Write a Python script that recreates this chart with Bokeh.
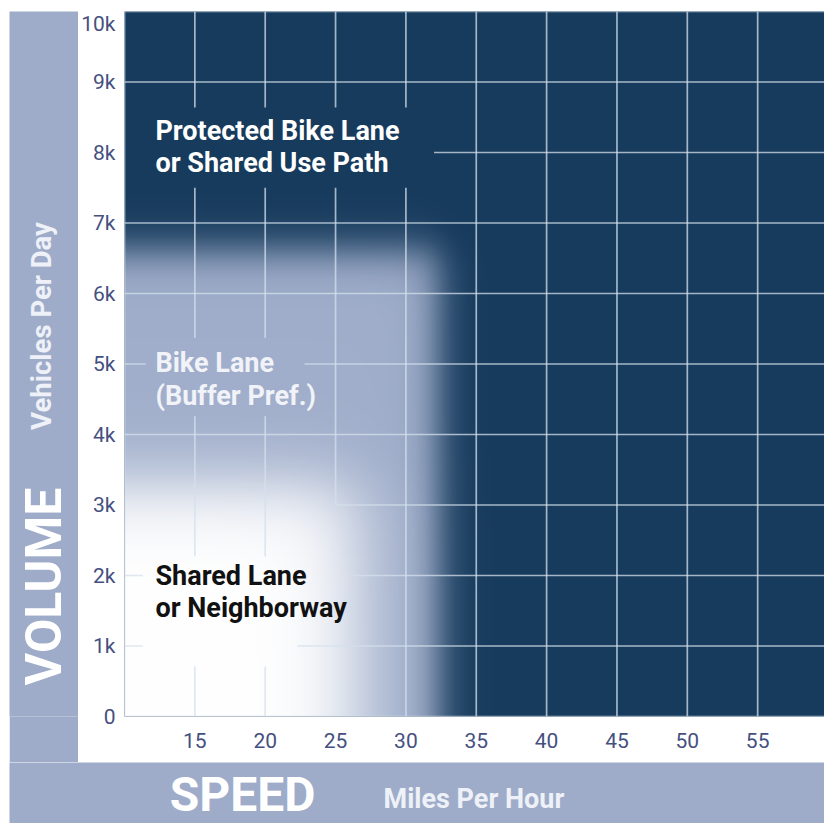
import numpy as np
from bokeh.plotting import figure
from bokeh.layouts import row, column
from bokeh.models import Range1d, FixedTicker, Spacer
from bokeh.embed import file_html
from bokeh.resources import INLINE
from bokeh.core.properties import value

# ---------------- data ----------------
speed_ticks = [15, 20, 25, 30, 35, 40, 45, 50, 55]
volume_ticks = [0, 1000, 2000, 3000, 4000, 5000, 6000, 7000, 8000, 9000, 10000]
volume_labels = ["0", "1k", "2k", "3k", "4k", "5k", "6k", "7k", "8k", "9k", "10k"]

zone_lines = [["Protected Bike Lane", "or Shared Use Path"],
              ["Bike Lane", "(Buffer Pref.)"],
              ["Shared Lane", "or Neighborway"]]
# approximate zone limits (soft edges)
bike_lane_speed_max = 32.3     # mph
bike_lane_volume_max = 6600    # vehicles / day
shared_lane_speed_max = 26.5   # mph
shared_lane_volume_max = 3300  # vehicles / day

# ---------------- style ----------------
NAVY = (23, 59, 93)
LAV = (160, 174, 203)
WHITE = (255, 255, 255)
FRAME = "#9eacc9"
TICK_COLOR = "#46507f"
GRID_COLOR = "#d4e0ec"
FONT = "Roboto"

X0, X1 = 10, 59.75
Y0, Y1 = 0, 10000

# ---------------- background raster ----------------
NX, NY = 350, 352
xs = X0 + (np.arange(NX) + 0.5) * (X1 - X0) / NX
ys = Y0 + (np.arange(NY) + 0.5) * (Y1 - Y0) / NY
X, Y = np.meshgrid(xs, ys)


def sig(d):
    return 1.0 / (1.0 + np.exp(-d))


A = sig((bike_lane_speed_max - X) / 0.75) * sig((bike_lane_volume_max - Y) / 170.0)
W = sig((shared_lane_speed_max - X) / 1.6) * sig((shared_lane_volume_max - Y) / 300.0)

img = np.empty((NY, NX), dtype=np.uint32)
view = img.view(dtype=np.uint8).reshape((NY, NX, 4))
for c in range(3):
    base = NAVY[c] + A * (LAV[c] - NAVY[c])
    col = base + W * (WHITE[c] - base)
    view[:, :, c] = np.clip(col, 0, 255).astype(np.uint8)
view[:, :, 3] = 255

BORDER_B = 46
FIG_H = 751

# ---------------- main figure ----------------
p = figure(width=746, height=FIG_H, x_range=Range1d(X0, X1), y_range=Range1d(Y0, Y1),
           output_backend="svg", toolbar_location=None, title=None,
           min_border_left=46, min_border_right=0, min_border_top=0,
           min_border_bottom=BORDER_B,
           border_fill_color="white", background_fill_color="#173b5d",
           outline_line_color=None)
p.xgrid.visible = False
p.ygrid.visible = False

p.image_rgba(image=[img], x=X0, y=Y0, dw=X1 - X0, dh=Y1 - Y0)

# grid lines (with gaps around the zone labels)
h_spans = {
    0: [(X0, X1)],
    1000: [(X0, 11.3), (22.3, X1)],
    2000: [(X0, 11.3), (26.0, X1)],
    3000: [(25, X1)],
    4000: [(X0, X1)],
    5000: [(X0, 11.5), (22.8, X1)],
    6000: [(X0, X1)],
    7000: [(X0, X1)],
    8000: [(32.0, X1)],
    9000: [(X0, X1)],
    10000: [(X0, X1)],
}
v_spans = {
    10: [(0, 10000)],
    15: [(8640, 10000), (5370, 7500), (2270, 4260), (0, 710)],
    20: [(8640, 10000), (5370, 7500), (2270, 4260), (0, 710)],
    25: [(8640, 10000), (3000, 7500)],
    30: [(8640, 10000), (0, 7500)],
    35: [(0, 10000)], 40: [(0, 10000)], 45: [(0, 10000)],
    50: [(0, 10000)], 55: [(0, 10000)],
}
gx0, gy0, gx1, gy1 = [], [], [], []
for yv, spans in h_spans.items():
    for a, b in spans:
        gx0.append(a); gx1.append(b); gy0.append(yv); gy1.append(yv)
for xv, spans in v_spans.items():
    for a, b in spans:
        gx0.append(xv); gx1.append(xv); gy0.append(a); gy1.append(b)
p.segment(x0=gx0, y0=gy0, x1=gx1, y1=gy1, line_color=GRID_COLOR, line_alpha=0.75,
          line_width=1.7)

# zone labels
label_x = 12.2
label_specs = [
    (zone_lines[0], [8298, 7844], "#ffffff"),
    (zone_lines[1], [5021, 4553], "#f1f3f8"),
    (zone_lines[2], [2000, 1546], "#111111"),
]
for lines, yv, colr in label_specs:
    p.text(x=[label_x] * len(lines), y=yv, text=lines, text_align="left",
           text_baseline="middle", text_font=value(FONT), text_font_style="bold",
           text_font_size="27px", text_color=colr)

for ax in (p.xaxis[0], p.yaxis[0]):
    ax.axis_line_color = None
    ax.major_tick_line_color = None
    ax.minor_tick_line_color = None
    ax.major_tick_out = 0
    ax.major_tick_in = 0
    ax.minor_tick_out = 0
    ax.minor_tick_in = 0
    ax.major_label_text_font = FONT
    ax.major_label_text_font_size = "21px"
    ax.major_label_text_color = TICK_COLOR
p.xaxis.ticker = FixedTicker(ticks=speed_ticks)
p.yaxis.ticker = FixedTicker(ticks=volume_ticks)
p.yaxis.major_label_overrides = {t: l for t, l in zip(volume_ticks, volume_labels)}
p.xaxis.major_label_standoff = 16
p.yaxis.major_label_standoff = 9

# ---------------- left band (frame aligned with main frame) ----------------
left = figure(width=69, height=FIG_H, x_range=Range1d(0, 69), y_range=Range1d(Y0, Y1),
              output_backend="svg", toolbar_location=None, title=None,
              x_axis_type=None, y_axis_type=None,
              min_border_left=0, min_border_right=0, min_border_top=0,
              min_border_bottom=BORDER_B,
              border_fill_color=FRAME, background_fill_color=FRAME,
              outline_line_color=None)
left.xgrid.visible = False
left.ygrid.visible = False
left.text(x=[34.5], y=[1844], text=["VOLUME"], angle=np.pi / 2, text_align="center",
          text_baseline="middle", text_font=value(FONT), text_font_style="bold",
          text_font_size="50px", text_color="#ffffff")
left.text(x=[31.5], y=[5539], text=["Vehicles Per Day"], angle=np.pi / 2,
          text_align="center", text_baseline="middle", text_font=value(FONT),
          text_font_style="bold", text_font_size="27.5px", text_color="#eef1f7")

# ---------------- bottom band ----------------
bottom = figure(width=815, height=61, x_range=Range1d(0, 815), y_range=Range1d(0, 61),
                output_backend="svg", toolbar_location=None, title=None,
                x_axis_type=None, y_axis_type=None, min_border=0,
                border_fill_color=FRAME, background_fill_color=FRAME,
                outline_line_color=None)
bottom.xgrid.visible = False
bottom.ygrid.visible = False
bottom.text(x=[233], y=[29], text=["SPEED"], text_align="center",
            text_baseline="middle", text_font=value(FONT), text_font_style="bold",
            text_font_size="48px", text_color="#ffffff")
bottom.text(x=[374], y=[25], text=["Miles Per Hour"], text_align="left",
            text_baseline="middle", text_font=value(FONT), text_font_style="bold",
            text_font_size="27px", text_color="#eef1f7")

layout = column(
    Spacer(width=824, height=11),
    row(Spacer(width=9, height=FIG_H + 61),
        column(row(left, p), bottom)),
)

with open("out.html", "w") as f:
    f.write(file_html(layout, INLINE))
